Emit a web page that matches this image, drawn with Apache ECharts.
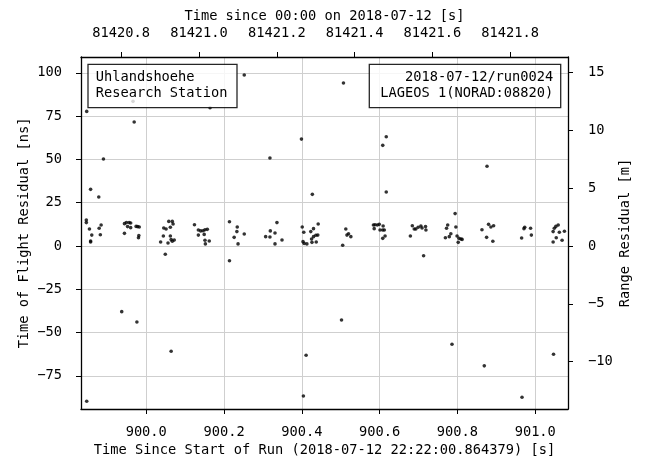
<!DOCTYPE html>
<html>
<head>
<meta charset="utf-8">
<script src="https://cdn.jsdelivr.net/npm/echarts@6/dist/echarts.min.js"></script>
<style>
html,body{margin:0;padding:0;background:#fff;}
#chart{width:646px;height:464px;}
</style>
</head>
<body>
<div id="chart"></div>
<script>
// ---- data ----
const runTime = [
  // outliers
  899.847, 899.966, 900.164, 900.252, 899.969, 899.890, 899.857, 899.878, 900.399, 900.318,
  900.427, 900.214, 900.049, 899.937, 899.976, 900.064, 900.411, 900.404, 899.847, 900.507,
  900.608, 900.617, 900.617, 900.794, 900.876, 900.713, 900.502, 900.786, 900.869, 901.047,
  900.966,
  // band clusters
  899.846, 899.846, 899.854, 899.860, 899.857, 899.857, 899.879, 899.884, 899.882,
  899.944, 899.949, 899.952, 899.956, 899.960, 899.960, 899.944, 899.974, 899.978, 899.982, 899.981, 899.980,
  900.045, 900.051, 900.058, 900.062, 900.067, 900.069, 900.044, 900.062, 900.037, 900.056, 900.064, 900.072, 900.067,
  900.124, 900.134, 900.140, 900.146, 900.151, 900.157, 900.134, 900.149, 900.151, 900.152, 900.162,
  900.214, 900.234, 900.233, 900.252, 900.226, 900.236,
  900.307, 900.319, 900.318, 900.331, 900.336, 900.331, 900.349,
  900.401, 900.405, 900.403, 900.406, 900.413, 900.423, 900.430, 900.442, 900.425, 900.430, 900.436, 900.441, 900.437, 900.426,
  900.513, 900.516, 900.520, 900.526, 900.505,
  900.584, 900.588, 900.594, 900.599, 900.586, 900.601, 900.609, 900.608, 900.612, 900.614, 900.608,
  900.679, 900.684, 900.689, 900.693, 900.699, 900.706, 900.709, 900.718, 900.719,
  900.775, 900.772, 900.769, 900.779, 900.783, 900.796, 900.802, 900.799, 900.804, 900.809, 900.812,
  900.863, 900.880, 900.886, 900.893, 900.875, 900.891,
  900.973, 900.971, 900.988, 900.965, 900.990,
  901.046, 901.049, 901.053, 901.059, 901.062, 901.046, 901.054, 901.069, 901.075
];
const tofResidual = [
  77.7, 83.5, 79.8, 98.7, 71.6, 50.2, 32.7, 28.3, 61.7, 50.8,
  29.8, -8.5, -4.8, -37.9, -43.9, -60.8, -63.1, -86.6, -89.6, 94.1,
  58.1, 63.1, 31.2, 18.7, 46.0, -5.6, -42.7, -56.7, -69.2, -62.5,
  -87.3,
  15.0, 13.5, 9.8, 6.3, 2.9, 2.3, 10.2, 12.1, 6.5,
  12.9, 13.5, 11.2, 13.5, 13.3, 10.6, 7.3, 11.3, 11.2, 11.0, 6.0, 4.8,
  10.4, 9.8, 14.2, 10.8, 14.2, 12.7, 5.8, 5.8, 2.3, 1.7, 3.7, 3.5, 2.7,
  12.3, 9.2, 8.7, 8.8, 9.4, 9.6, 6.3, 6.7, 3.3, 1.2, 2.9,
  14.0, 11.0, 8.3, 6.9, 5.0, 1.2,
  5.4, 8.7, 5.2, 7.5, 13.5, 1.2, 3.5,
  11.0, 7.9, 2.5, 1.5, 1.2, 8.3, 10.0, 12.7, 4.0, 5.4, 6.2, 6.3, 2.3, 2.1,
  9.8, 6.3, 7.1, 5.4, 0.4,
  12.1, 12.3, 12.1, 12.5, 10.0, 9.2, 11.5, 9.2, 9.2, 5.8, 4.4,
  5.8, 11.7, 9.8, 9.8, 10.8, 11.5, 10.4, 11.2, 9.2,
  12.1, 10.2, 4.8, 5.4, 7.1, 11.0, 2.1, 5.8, 4.4, 4.0, 3.8,
  9.4, 12.5, 11.0, 11.7, 5.0, 2.7,
  10.8, 10.0, 10.2, 4.6, 6.3,
  8.3, 10.2, 11.3, 12.1, 7.9, 2.3, 4.8, 3.3, 8.5
];
const runTicks = [900.0, 900.2, 900.4, 900.6, 900.8, 901.0];
const dayTicks = [81420.8, 81421.0, 81421.2, 81421.4, 81421.6, 81421.8];
const tofTicks = [-75, -50, -25, 0, 25, 50, 75, 100];
const rangeTicks = [-10, -5, 0, 5, 10, 15];
const runStartSecOfDay = 80520.864379;   // 22:22:00.864379
const metersPerNs = 0.299792458 / 2;     // two-way light time
const xMin = 899.8323, xMax = 901.0842;
const yMin = -94.1, yMax = 109.1;
const boxLeftText = 'Uhlandshoehe\nResearch Station';
const boxRightText = '2018-07-12/run0024\nLAGEOS 1(NORAD:08820)';
const titleTop = 'Time since 00:00 on 2018-07-12 [s]';
const titleBottom = 'Time Since Start of Run (2018-07-12 22:22:00.864379) [s]';
const titleLeft = 'Time of Flight Residual [ns]';
const titleRight = 'Range Residual [m]';

// ---- chart ----
const FONT = 'DejaVu Sans Mono';
const FS = 13.7;
const minus = v => String(v).replace('-', '\u2212');
const lineStyle = {color: '#000', width: 1.3};
const tickStyle = {color: '#000', width: 1};
const labelBase = {color: '#000', fontFamily: FONT, fontSize: FS};
const nameBase = {color: '#000', fontFamily: FONT, fontSize: FS};

const chart = echarts.init(document.getElementById('chart'), null, {renderer: 'canvas'});
const points = runTime.map((t, i) => [t, tofResidual[i]]);

chart.setOption({
  animation: false,
  backgroundColor: '#fff',
  grid: {left: 81, top: 57, right: 78, bottom: 55, containLabel: false},
  xAxis: [
    {
      type: 'value', position: 'bottom', min: xMin, max: xMax,
      name: titleBottom, nameLocation: 'middle', nameGap: 34, nameMoveOverlap: false, nameTextStyle: nameBase,
      axisLine: {show: true, onZero: false, lineStyle},
      axisTick: {show: true, inside: false, length: 5, lineStyle: tickStyle, customValues: runTicks},
      axisLabel: Object.assign({margin: 16, customValues: runTicks, formatter: v => v.toFixed(1)}, labelBase),
      splitLine: {show: true, lineStyle: {color: '#cfcfcf', width: 1}}
    },
    {
      type: 'value', position: 'top', min: xMin + runStartSecOfDay, max: xMax + runStartSecOfDay,
      name: titleTop, nameLocation: 'middle', nameGap: 34, nameMoveOverlap: false, nameTextStyle: nameBase,
      axisLine: {show: true, onZero: false, lineStyle},
      axisTick: {show: true, inside: false, length: 5, lineStyle: tickStyle, customValues: dayTicks},
      axisLabel: Object.assign({margin: 17, customValues: dayTicks, formatter: v => v.toFixed(1)}, labelBase),
      splitLine: {show: false}
    }
  ],
  yAxis: [
    {
      type: 'value', position: 'left', min: yMin, max: yMax,
      name: titleLeft, nameLocation: 'middle', nameGap: 50, nameMoveOverlap: false, nameTextStyle: nameBase,
      axisLine: {show: true, onZero: false, lineStyle},
      axisTick: {show: true, inside: false, length: 5, lineStyle: tickStyle, customValues: tofTicks},
      axisLabel: Object.assign({margin: 19, customValues: tofTicks, formatter: v => minus(v)}, labelBase),
      splitLine: {show: true, lineStyle: {color: '#cfcfcf', width: 1}}
    },
    {
      type: 'value', position: 'right', min: yMin * metersPerNs, max: yMax * metersPerNs,
      name: titleRight, nameLocation: 'middle', nameGap: 50, nameMoveOverlap: false, nameTextStyle: nameBase,
      axisLine: {show: true, onZero: false, lineStyle},
      axisTick: {show: true, inside: false, length: 5, lineStyle: tickStyle, customValues: rangeTicks},
      axisLabel: Object.assign({margin: 20, customValues: rangeTicks, formatter: v => minus(v)}, labelBase),
      splitLine: {show: false}
    }
  ],
  series: [{
    type: 'scatter', xAxisIndex: 0, yAxisIndex: 0,
    data: points, symbol: 'circle', symbolSize: 3.6,
    itemStyle: {color: '#000'}, silent: true
  }],
  graphic: [
    {type: 'rect', z: 100, shape: {x: 88, y: 64.3, width: 149, height: 43.4},
     style: {fill: 'rgba(255,255,255,0.8)', stroke: 'rgba(0,0,0,0.85)', lineWidth: 1.3}},
    {type: 'text', z: 101, x: 95.7, y: 85.6,
     style: {text: boxLeftText, fill: '#000', font: FS + 'px "' + FONT + '"', textAlign: 'left', textVerticalAlign: 'middle', lineHeight: 15.6}},
    {type: 'rect', z: 100, shape: {x: 369.3, y: 64.3, width: 191.4, height: 43.4},
     style: {fill: 'rgba(255,255,255,0.8)', stroke: 'rgba(0,0,0,0.85)', lineWidth: 1.3}},
    {type: 'text', z: 101, x: 553.3, y: 85.6,
     style: {text: boxRightText, fill: '#000', font: FS + 'px "' + FONT + '"', textAlign: 'right', textVerticalAlign: 'middle', lineHeight: 15.6}}
  ]
});
</script>
</body>
</html>
